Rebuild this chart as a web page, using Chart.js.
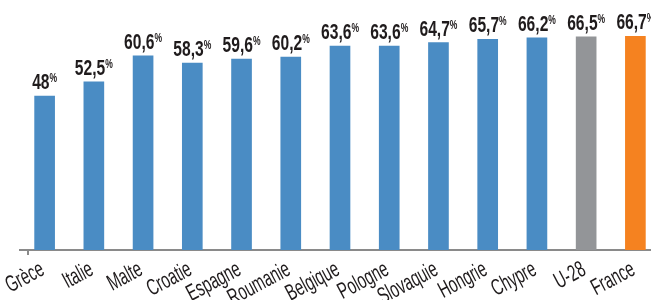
<!DOCTYPE html>
<html>
<head>
<meta charset="utf-8">
<script src="https://cdn.jsdelivr.net/npm/chart.js@4.4.1/dist/chart.umd.min.js"></script>
<style>
  html, body { margin: 0; padding: 0; background: #fff; overflow: hidden; }
  #wrap { width: 660px; height: 300px; }
</style>
</head>
<body>
<div id="wrap"><canvas id="chart"></canvas></div>
<script>
// donnees
const categories = ['Grèce', 'Italie', 'Malte', 'Croatie', 'Espagne', 'Roumanie', 'Belgique', 'Pologne', 'Slovaquie', 'Hongrie', 'Chypre', 'U-28', 'France'];
const values = [48, 52.5, 60.6, 58.3, 59.6, 60.2, 63.6, 63.6, 64.7, 65.7, 66.2, 66.5, 66.7];
const barColors = ['#4a8cc4', '#4a8cc4', '#4a8cc4', '#4a8cc4', '#4a8cc4', '#4a8cc4', '#4a8cc4', '#4a8cc4', '#4a8cc4', '#4a8cc4', '#4a8cc4', '#939598', '#f58220'];

const FONT = '"Liberation Sans", Arial, sans-serif';
const SQUEEZE = 0.71; // police etroite simulee

// etiquettes au-dessus des barres : nombre + "%" plus petit
const valueLabels = {
    id: 'valueLabels',
    afterDatasetsDraw(chart) {
        const ctx = chart.ctx;
        const meta = chart.getDatasetMeta(0);
        ctx.save();
        ctx.fillStyle = '#1f1b1c';
        ctx.textBaseline = 'alphabetic';
        ctx.textAlign = 'left';
        meta.data.forEach((bar, i) => {
            const num = String(values[i]).replace('.', ',');
            ctx.font = 'bold 22px ' + FONT;
            const numW = ctx.measureText(num).width;
            ctx.font = 'bold 12px ' + FONT;
            const pctW = ctx.measureText('%').width;
            const total = (numW + pctW) * SQUEEZE;
            ctx.save();
            ctx.translate(bar.x - total / 2, bar.y - 7);
            ctx.scale(SQUEEZE, 1);
            ctx.font = 'bold 22px ' + FONT;
            ctx.fillText(num, 0, 0);
            ctx.font = 'bold 12px ' + FONT;
            ctx.fillText('%', numW, -7);
            ctx.restore();
        });
        ctx.restore();
    }
};

// libelles de l'axe x, inclines et etroits
const xLabels = {
    id: 'xLabels',
    afterDraw(chart) {
        const ctx = chart.ctx;
        const xs = chart.scales.x;
        ctx.save();
        // petit trait au debut de l'axe
        ctx.strokeStyle = '#8a8a8a';
        ctx.lineWidth = 2;
        ctx.beginPath();
        ctx.moveTo(xs.left + 8, xs.top);
        ctx.lineTo(xs.left + 8, xs.top + 5);
        ctx.stroke();

        ctx.fillStyle = '#1f1b1c';
        ctx.font = '23px ' + FONT;
        ctx.textAlign = 'right';
        ctx.textBaseline = 'alphabetic';
        categories.forEach((c, i) => {
            ctx.save();
            ctx.translate(xs.getPixelForTick(i) + 1, xs.top + 24);
            ctx.rotate(-28 * Math.PI / 180);
            ctx.scale(0.64, 1);
            ctx.fillText(c, 0, 0);
            ctx.restore();
        });
        ctx.restore();
    }
};

new Chart(document.getElementById('chart'), {
    type: 'bar',
    data: {
        labels: categories,
        datasets: [{
            data: values,
            backgroundColor: barColors,
            barThickness: 20
        }]
    },
    options: {
        responsive: true, maintainAspectRatio: false,
        animation: false,
        layout: { padding: { left: 20, right: 0, top: 0, bottom: 0 } },
        plugins: { legend: { display: false }, tooltip: { enabled: false } },
        scales: {
            y: { display: false, min: 0, max: 78 },
            x: {
                grid: { display: false },
                border: { color: '#8a8a8a', width: 2 },
                ticks: { display: false },
                afterFit: (s) => { s.height = 50; }
            }
        }
    },
    plugins: [valueLabels, xLabels]
});
</script>
</body>
</html>
